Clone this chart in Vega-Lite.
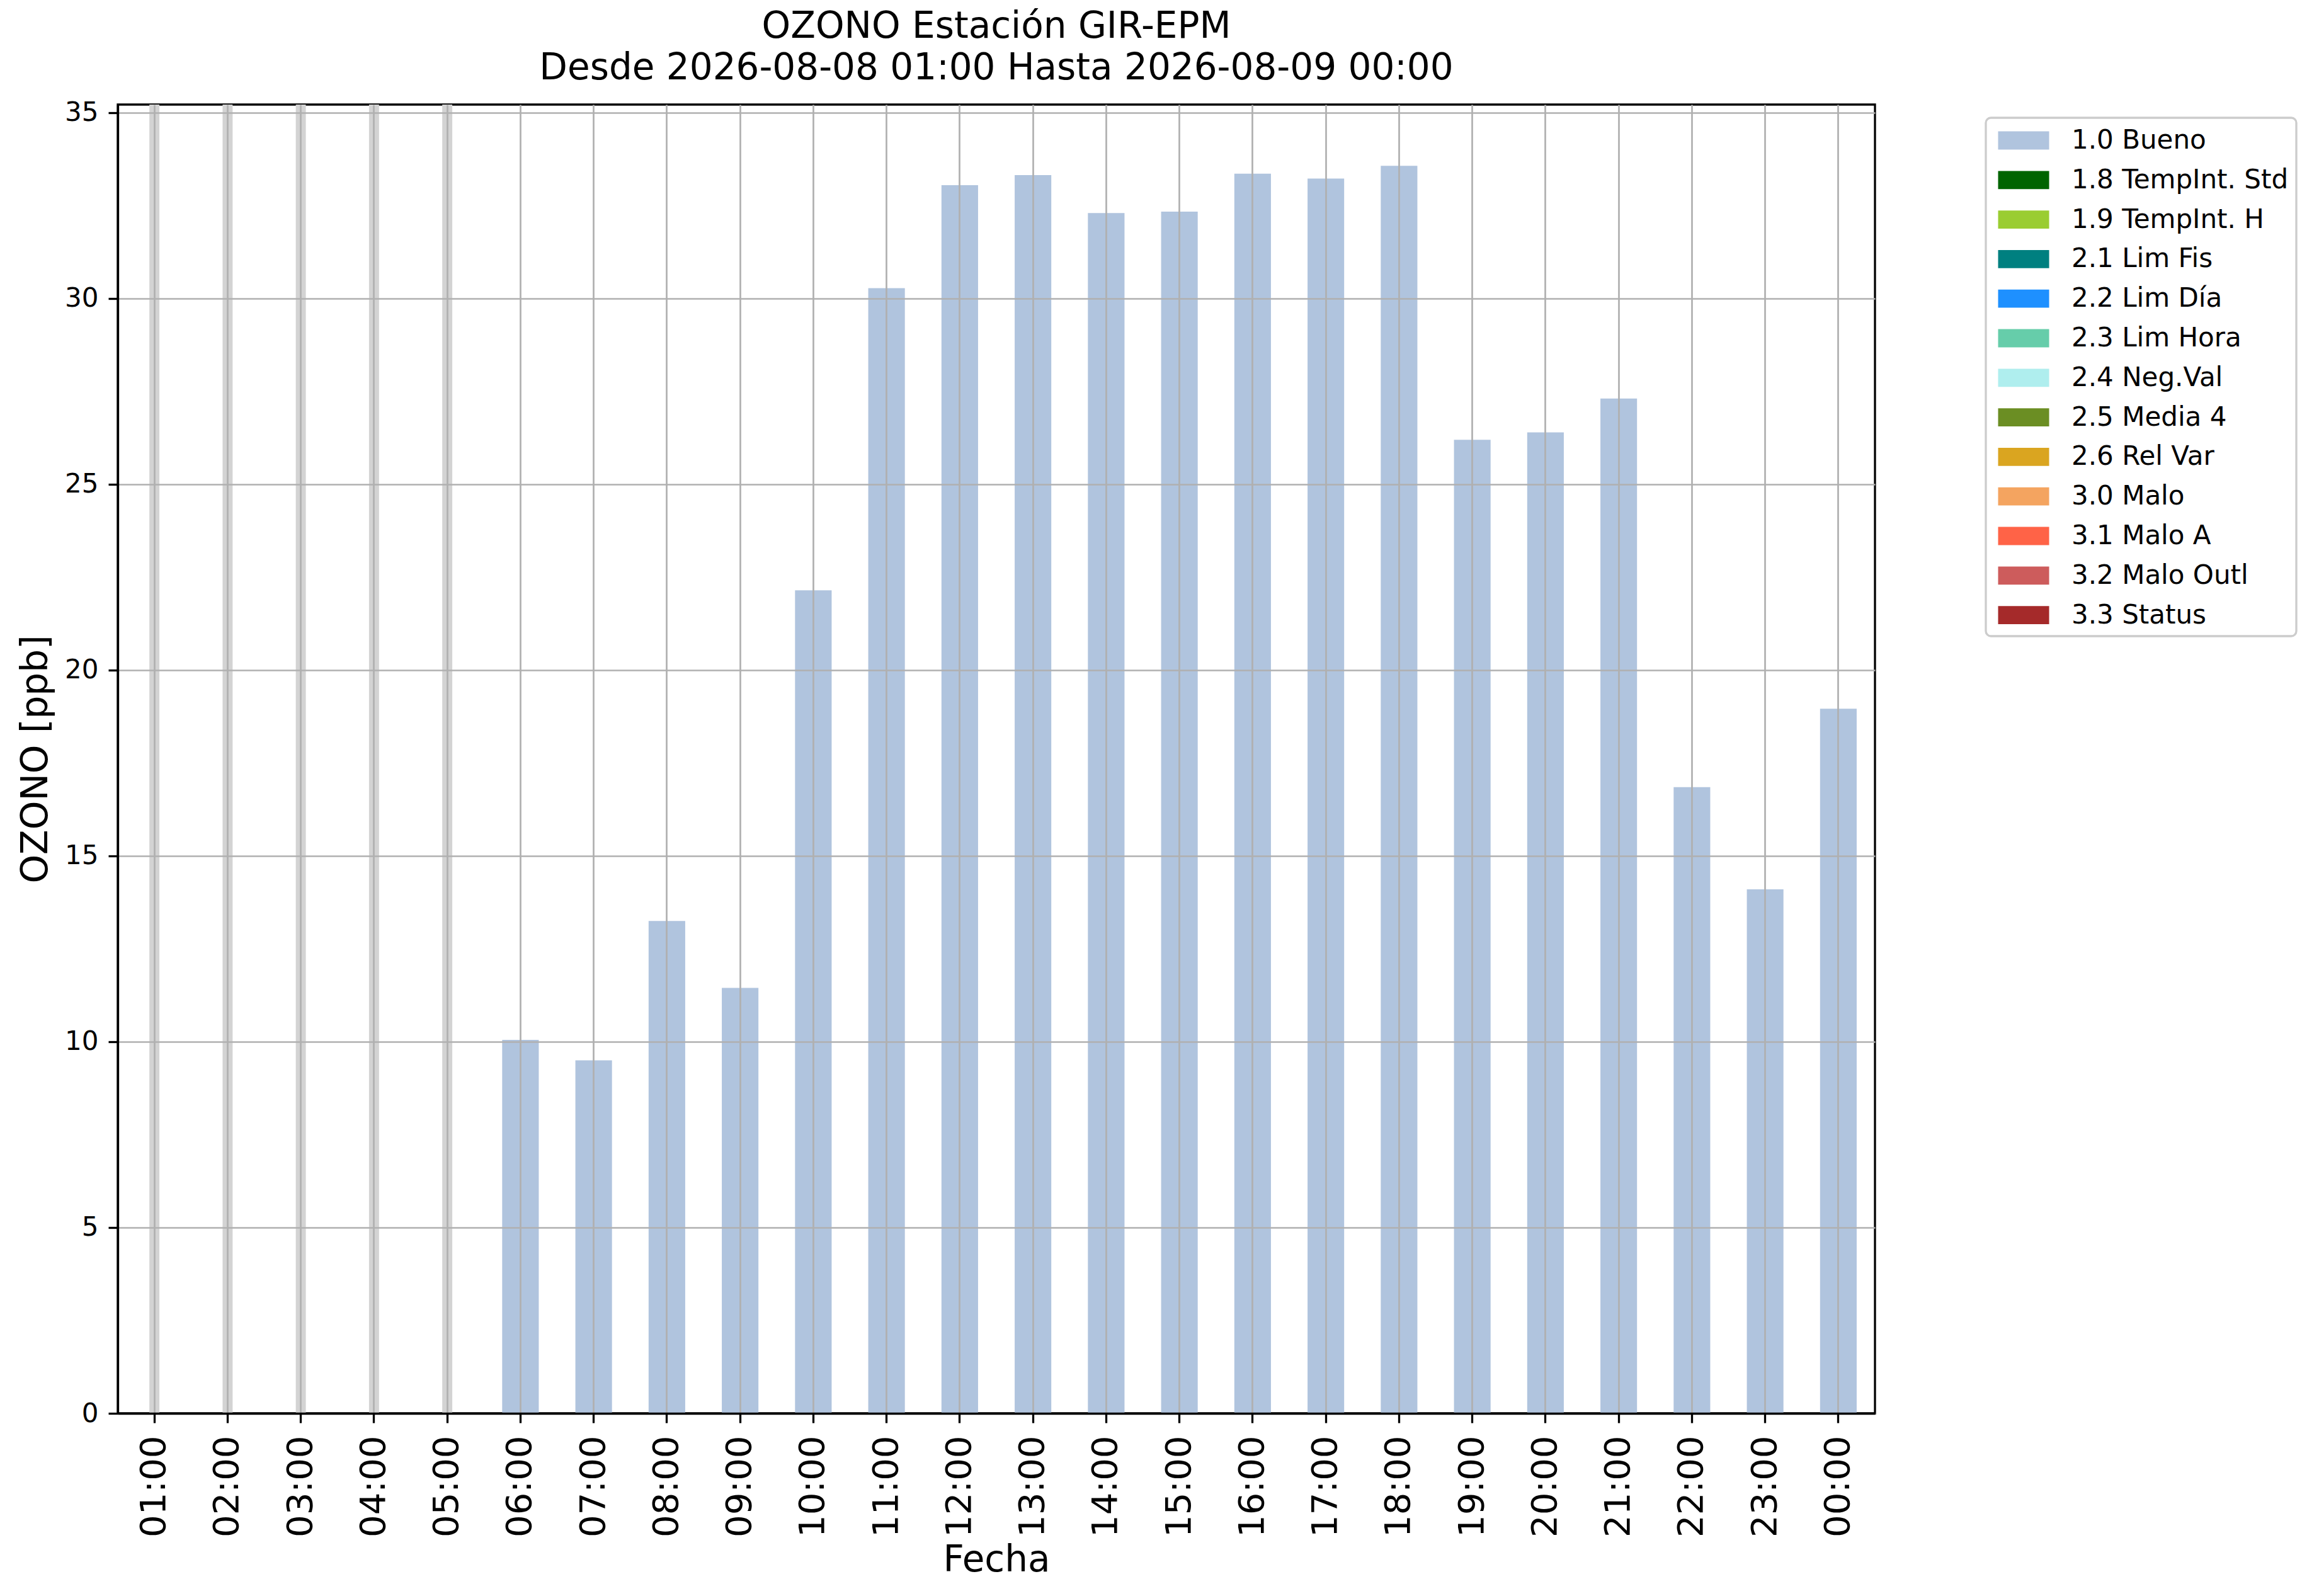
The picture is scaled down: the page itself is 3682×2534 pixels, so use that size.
{
  "$schema": "https://vega.github.io/schema/vega-lite/v6.json",
  "width": 2790,
  "height": 2078,
  "autosize": {"type": "none"},
  "padding": {"left": 187, "top": 166, "right": 705, "bottom": 290},
  "background": "white",
  "title": {
    "text": ["OZONO Estación GIR-EPM", "Desde 2026-08-08 01:00 Hasta 2026-08-09 00:00"],
    "fontSize": 58,
    "font": "DejaVu Sans",
    "fontWeight": "normal",
    "color": "black",
    "anchor": "middle",
    "baseline": "bottom",
    "lineHeight": 66,
    "offset": -38
  },
  "data": {
    "values": [
      {"hora": "01:00", "ozono": null, "estado": null},
      {"hora": "02:00", "ozono": null, "estado": null},
      {"hora": "03:00", "ozono": null, "estado": null},
      {"hora": "04:00", "ozono": null, "estado": null},
      {"hora": "05:00", "ozono": null, "estado": null},
      {"hora": "06:00", "ozono": 10.05, "estado": "1.0 Bueno"},
      {"hora": "07:00", "ozono": 9.5, "estado": "1.0 Bueno"},
      {"hora": "08:00", "ozono": 13.25, "estado": "1.0 Bueno"},
      {"hora": "09:00", "ozono": 11.45, "estado": "1.0 Bueno"},
      {"hora": "10:00", "ozono": 22.15, "estado": "1.0 Bueno"},
      {"hora": "11:00", "ozono": 30.28, "estado": "1.0 Bueno"},
      {"hora": "12:00", "ozono": 33.05, "estado": "1.0 Bueno"},
      {"hora": "13:00", "ozono": 33.32, "estado": "1.0 Bueno"},
      {"hora": "14:00", "ozono": 32.3, "estado": "1.0 Bueno"},
      {"hora": "15:00", "ozono": 32.34, "estado": "1.0 Bueno"},
      {"hora": "16:00", "ozono": 33.36, "estado": "1.0 Bueno"},
      {"hora": "17:00", "ozono": 33.23, "estado": "1.0 Bueno"},
      {"hora": "18:00", "ozono": 33.57, "estado": "1.0 Bueno"},
      {"hora": "19:00", "ozono": 26.2, "estado": "1.0 Bueno"},
      {"hora": "20:00", "ozono": 26.4, "estado": "1.0 Bueno"},
      {"hora": "21:00", "ozono": 27.31, "estado": "1.0 Bueno"},
      {"hora": "22:00", "ozono": 16.85, "estado": "1.0 Bueno"},
      {"hora": "23:00", "ozono": 14.1, "estado": "1.0 Bueno"},
      {"hora": "00:00", "ozono": 18.96, "estado": "1.0 Bueno"}
    ]
  },
  "encoding": {
    "x": {
      "field": "hora",
      "type": "nominal",
      "sort": null,
      "scale": {"paddingInner": 0, "paddingOuter": 0},
      "axis": {
        "title": "Fecha",
        "labelAngle": 270,
        "labelFontSize": 56,
        "labelPadding": 20,
        "titleFontSize": 58,
        "titlePadding": 8,
        "zindex": 1
      }
    }
  },
  "layer": [
    {
      "transform": [{"filter": "datum.ozono == null"}],
      "mark": {"type": "bar", "color": "#d3d3d3", "width": {"band": 0.137}},
      "encoding": {
        "y": {"datum": 0, "type": "quantitative"},
        "y2": {"datum": 35.22}
      }
    },
    {
      "transform": [{"filter": "datum.ozono != null"}],
      "mark": {"type": "bar", "width": {"band": 0.5}},
      "encoding": {
        "y": {
          "field": "ozono",
          "type": "quantitative",
          "scale": {"domain": [0, 35.22], "nice": false, "zero": true},
          "axis": {
            "title": "OZONO [ppb]",
            "values": [0, 5, 10, 15, 20, 25, 30, 35],
            "format": "d",
            "labelFontSize": 42,
            "labelPadding": 16,
            "titleFontSize": 58,
            "titlePadding": 16,
            "zindex": 1
          }
        },
        "color": {
          "field": "estado",
          "type": "nominal",
          "scale": {
            "domain": ["1.0 Bueno", "1.8 TempInt. Std", "1.9 TempInt. H", "2.1 Lim Fis", "2.2 Lim Día", "2.3 Lim Hora", "2.4 Neg.Val", "2.5 Media 4", "2.6 Rel Var", "3.0 Malo", "3.1 Malo A", "3.2 Malo Outl", "3.3 Status"],
            "range": ["#b0c4de", "#006400", "#9acd32", "#008080", "#1e90ff", "#66cdaa", "#afeeee", "#6b8e23", "#daa520", "#f4a460", "#ff6347", "#cd5c5c", "#a52a2a"]
          },
          "legend": {
            "title": null,
            "orient": "none",
            "legendX": 2966,
            "legendY": 21,
            "padding": 12,
            "rowPadding": 17.8,
            "symbolType": "M-1.6875,-0.6H1.6875V0.6H-1.6875Z",
            "symbolSize": 2304,
            "symbolStrokeWidth": 0,
            "symbolOffset": 24,
            "labelOffset": 52,
            "labelFontSize": 42,
            "labelLimit": 0,
            "strokeColor": "#cccccc",
            "cornerRadius": 8,
            "fillColor": "white",
            "encode": {
              "legend": {"update": {"strokeWidth": {"value": 3.3}}}
            }
          }
        }
      }
    }
  ],
  "config": {
    "font": "DejaVu Sans",
    "view": {"stroke": "black", "strokeWidth": 3.3},
    "axis": {
      "grid": true,
      "gridColor": "#b0b0b0",
      "gridWidth": 2.7,
      "domain": true,
      "domainColor": "black",
      "domainWidth": 3.3,
      "tickColor": "black",
      "tickWidth": 3.3,
      "tickSize": 15,
      "labelColor": "black",
      "titleColor": "black",
      "titleFontWeight": "normal",
      "labelFont": "DejaVu Sans",
      "titleFont": "DejaVu Sans"
    },
    "legend": {"labelFont": "DejaVu Sans", "labelColor": "black"}
  }
}
